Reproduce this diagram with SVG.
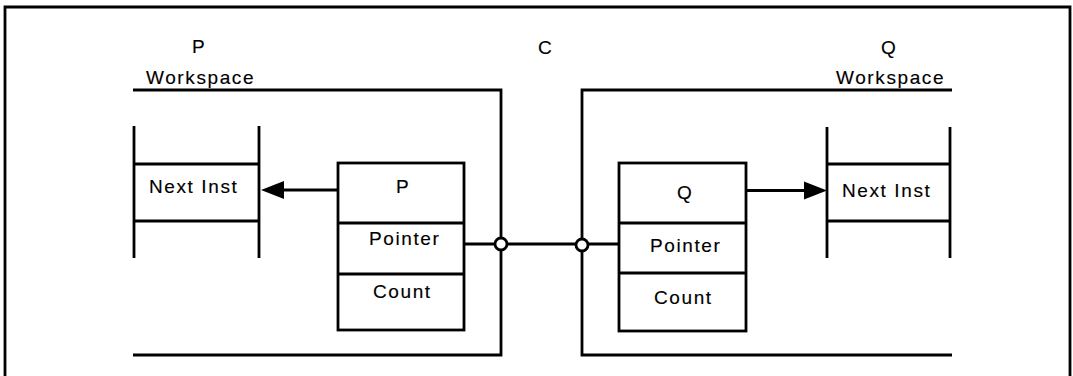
<svg xmlns="http://www.w3.org/2000/svg" width="1073" height="376" viewBox="0 0 1073 376">
<style>
.t{font-family:"Liberation Sans",Arial,sans-serif;font-size:19px;letter-spacing:1.6px;fill:#000;stroke:#000;stroke-width:0.15}
.ln{fill:none;stroke:#000;stroke-width:2.8}
.bx{fill:#fff;stroke:#000;stroke-width:2.8}
.jn{fill:#fff;stroke:#000;stroke-width:2.8}
</style>
<rect width="1073" height="376" fill="#fff"/>
<g id="frame"><path class="ln" d="M5,376 V7 H1070 V376"/></g>
<g id="p-workspace">
<path class="ln" d="M133,90 H501 V355 H133"/>
<text class="t" x="192" y="53">P</text>
<text class="t" x="146" y="84">Workspace</text>
</g>
<g id="c-label"><text class="t" x="538" y="54">C</text></g>
<g id="q-workspace">
<path class="ln" d="M952,90 H582 V355 H952"/>
<text class="t" x="881" y="54">Q</text>
<text class="t" x="836" y="84">Workspace</text>
</g>
<g id="p-next-inst">
<path class="ln" d="M134,126 V258 M259,126 V258 M134,164 H259 M134,221 H259"/>
<text class="t" x="149" y="193">Next Inst</text>
</g>
<g id="q-next-inst">
<path class="ln" d="M827,127 V258 M950,127 V258 M827,164 H950 M827,221 H950"/>
<text class="t" x="842" y="197">Next Inst</text>
</g>
<g id="connectors">
<path class="ln" d="M338,190 H280"/>
<polygon points="261,190 284,181 284,199" fill="#000"/>
<path class="ln" d="M746,190.5 H808"/>
<polygon points="827,190.5 804,181.5 804,199.5" fill="#000"/>
<path class="ln" d="M464,244 H620"/>
<circle class="jn" cx="501" cy="244" r="6"/>
<circle class="jn" cx="582" cy="245" r="6"/>
</g>
<g id="p-box">
<rect class="bx" x="338" y="163" width="126" height="167"/>
<path class="ln" d="M338,223 H464 M338,274 H464"/>
<text class="t" x="396" y="193">P</text>
<text class="t" x="369" y="245">Pointer</text>
<text class="t" x="373" y="298">Count</text>
</g>
<g id="q-box">
<rect class="bx" x="619" y="163" width="127" height="168"/>
<path class="ln" d="M619,223 H746 M619,273 H746"/>
<text class="t" x="677" y="199">Q</text>
<text class="t" x="650" y="252">Pointer</text>
<text class="t" x="654" y="304">Count</text>
</g>
</svg>
